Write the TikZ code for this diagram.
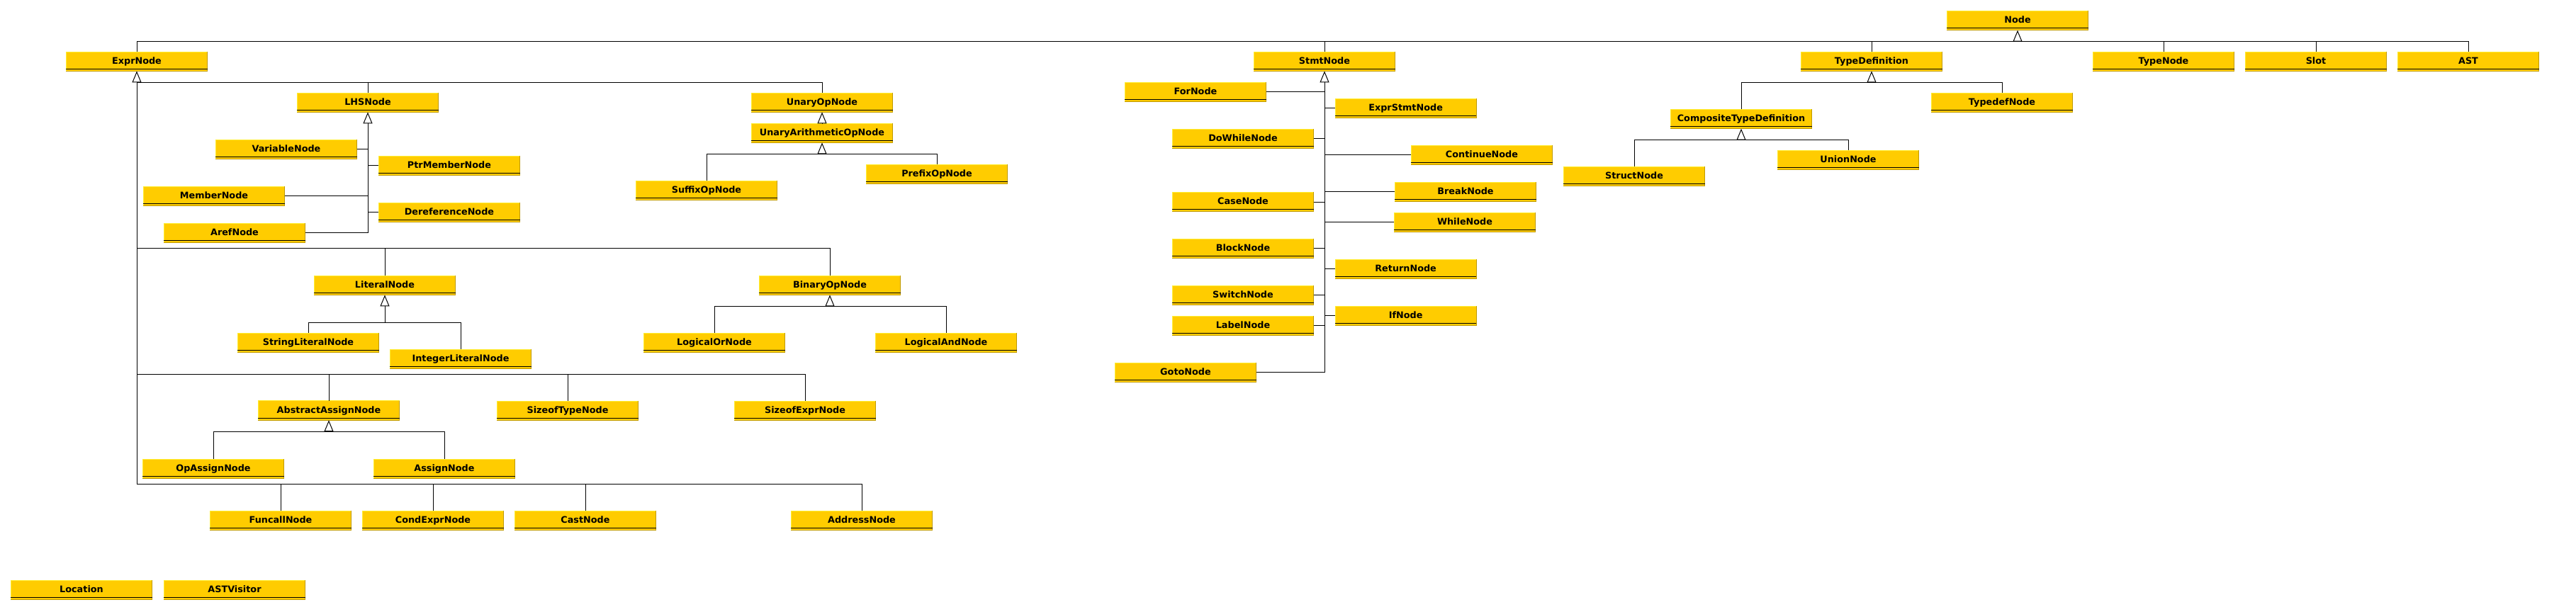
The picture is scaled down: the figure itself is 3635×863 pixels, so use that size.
\documentclass[tikz,border=0pt]{standalone}
\usepackage{fontspec}
\newfontfamily\clsfont{DejaVu Sans}
\usetikzlibrary{arrows.meta}
\definecolor{clsfill}{HTML}{FFCC00}
\definecolor{clsdark}{HTML}{C09A00}
\definecolor{clslight}{HTML}{FFEE33}
\tikzset{
	cls/.style={rectangle, fill=clsfill, minimum width=199pt, minimum height=27pt, inner sep=0pt,
		text height=9.3pt, text depth=2pt, font=\clsfont\bfseries\fontsize{12.8}{14}\selectfont},
	link/.style={line width=1pt},
	gen/.style={link, -{Triangle[open, length=16pt, width=13pt]}},
}
\def\cls(#1)(#2)#3{\node[cls] (#1) at (#2) {#3};
	\draw[clslight, line width=0.8pt] (#1.south west) -- (#1.north west) -- (#1.north east);
	\draw[clsdark, line width=0.8pt] (#1.north east) -- (#1.south east) -- (#1.south west);
	\draw[line width=1.2pt] ([yshift=3pt]#1.south west) -- ([yshift=3pt]#1.south east);}

\begin{document}
\begin{tikzpicture}[x=1pt, y=-1pt]
		%%%%% START %%%%%
		\useasboundingbox (0,0) rectangle (3635,863);
		
		\cls(Node)(2847,29){Node}
		\cls(ExprNode)(193,86.7){ExprNode}
		\cls(StmtNode)(1869,86.7){StmtNode}
		\cls(TypeDefinition)(2641,86.7){TypeDefinition}
		\cls(TypeNode)(3053,86.7){TypeNode}
		\cls(Slot)(3268,86.7){Slot}
		\cls(AST)(3483,86.7){AST}
		
		%% expressions
		\cls(LHSNode)(519,144.7){LHSNode}
		\cls(UnaryOpNode)(1160,144.7){UnaryOpNode}
		\cls(UnaryArithmeticOpNode)(1160,187.7){UnaryArithmeticOpNode}
		\cls(SuffixOpNode)(997,269){SuffixOpNode}
		\cls(PrefixOpNode)(1322,245.7){PrefixOpNode}
		\cls(VariableNode)(404,210.7){VariableNode}
		\cls(PtrMemberNode)(634,233.8){PtrMemberNode}
		\cls(MemberNode)(302,276.7){MemberNode}
		\cls(DereferenceNode)(634,299.8){DereferenceNode}
		\cls(ArefNode)(331,328.8){ArefNode}
		\cls(LiteralNode)(543,402.7){LiteralNode}
		\cls(BinaryOpNode)(1171,402.7){BinaryOpNode}
		\cls(StringLiteralNode)(435,483.7){StringLiteralNode}
		\cls(IntegerLiteralNode)(650,506.7){IntegerLiteralNode}
		\cls(LogicalOrNode)(1008,483.8){LogicalOrNode}
		\cls(LogicalAndNode)(1335,483.8){LogicalAndNode}
		\cls(AbstractAssignNode)(464,579.5){AbstractAssignNode}
		\cls(SizeofTypeNode)(801,579.8){SizeofTypeNode}
		\cls(SizeofExprNode)(1136,579.8){SizeofExprNode}
		\cls(OpAssignNode)(301,661.8){OpAssignNode}
		\cls(AssignNode)(627,661.8){AssignNode}
		\cls(FuncallNode)(396,734.8){FuncallNode}
		\cls(CondExprNode)(611,734.8){CondExprNode}
		\cls(CastNode)(826,734.8){CastNode}
		\cls(AddressNode)(1216,734.8){AddressNode}
		\cls(Location)(115,833){Location}
		\cls(ASTVisitor)(331,833){ASTVisitor}
		
		%% statements
		\cls(ForNode)(1687,129.8){ForNode}
		\cls(ExprStmtNode)(1983.6,152.8){ExprStmtNode}
		\cls(DoWhileNode)(1754,195.8){DoWhileNode}
		\cls(ContinueNode)(2091,218.8){ContinueNode}
		\cls(BreakNode)(2068,270.8){BreakNode}
		\cls(CaseNode)(1754,285){CaseNode}
		\cls(WhileNode)(2067,313.8){WhileNode}
		\cls(BlockNode)(1754,350.8){BlockNode}
		\cls(ReturnNode)(1983.6,379.8){ReturnNode}
		\cls(SwitchNode)(1754,416.8){SwitchNode}
		\cls(IfNode)(1983.6,445.8){IfNode}
		\cls(LabelNode)(1754,459.8){LabelNode}
		\cls(GotoNode)(1673,525.8){GotoNode}
		
		%% types
		\cls(CompositeTypeDefinition)(2457,168){CompositeTypeDefinition}
		\cls(TypedefNode)(2825,144.8){TypedefNode}
		\cls(StructNode)(2306,249){StructNode}
		\cls(UnionNode)(2608,225.8){UnionNode}
		
		%% Node
		\coordinate (nodefork) at (Node.south |- 0,58.3);
		\draw[link] (ExprNode.north) |- (AST.north |- nodefork) -- (AST.north);
		\foreach \n in {StmtNode,TypeDefinition,TypeNode,Slot}
			\draw[link] (\n.north) -- (\n.north |- nodefork);
		\draw[gen] (nodefork) -- (Node.south);
		
		%% ExprNode
		\coordinate (exprfork) at (ExprNode.south |- 0,116.3);
		\coordinate (litfork) at (ExprNode.south |- 0,350.3);
		\coordinate (assignfork) at (ExprNode.south |- 0,528.3);
		\coordinate (castfork) at (ExprNode.south |- 0,683.3);
		\draw[gen] (castfork) -- (ExprNode.south);
		\draw[link] (exprfork) -| (UnaryOpNode.north);
		\draw[link] (LHSNode.north) -- (LHSNode.north |- exprfork);
		\draw[link] (litfork) -| (BinaryOpNode.north);
		\draw[link] (LiteralNode.north) -- (LiteralNode.north |- litfork);
		\draw[link] (assignfork) -| (SizeofExprNode.north);
		\foreach \n in {AbstractAssignNode,SizeofTypeNode}
			\draw[link] (\n.north) -- (\n.north |- assignfork);
		\draw[link] (castfork) -| (AddressNode.north);
		\foreach \n in {FuncallNode,CondExprNode,CastNode}
			\draw[link] (\n.north) -- (\n.north |- castfork);
		
		%% LHSNode
		\draw[gen] (LHSNode.south |- ArefNode.east) -- (LHSNode.south);
		\foreach \n in {VariableNode,MemberNode,ArefNode}
			\draw[link] (\n.east) -- (\n.east -| LHSNode.south);
		\foreach \n in {PtrMemberNode,DereferenceNode}
			\draw[link] (\n.west) -- (\n.west -| LHSNode.south);
		
		%% unary ops
		\draw[gen] (UnaryArithmeticOpNode.north) -- (UnaryOpNode.south);
		\coordinate (unaryfork) at (UnaryArithmeticOpNode.south |- 0,217.3);
		\draw[link] (SuffixOpNode.north) |- (unaryfork) -| (PrefixOpNode.north);
		\draw[gen] (unaryfork) -- (UnaryArithmeticOpNode.south);
		
		%% literals
		\coordinate (literalfork) at (LiteralNode.south |- 0,455.3);
		\draw[link] (StringLiteralNode.north) |- (literalfork) -| (IntegerLiteralNode.north);
		\draw[gen] (literalfork) -- (LiteralNode.south);
		
		%% binary ops
		\coordinate (binaryfork) at (BinaryOpNode.south |- 0,432.3);
		\draw[link] (LogicalOrNode.north) |- (binaryfork) -| (LogicalAndNode.north);
		\draw[gen] (binaryfork) -- (BinaryOpNode.south);
		
		%% assignments
		\coordinate (opfork) at (AbstractAssignNode.south |- 0,609.3);
		\draw[link] (OpAssignNode.north) |- (opfork) -| (AssignNode.north);
		\draw[gen] (opfork) -- (AbstractAssignNode.south);
		
		%% StmtNode
		\draw[gen] (StmtNode.south |- GotoNode.east) -- (StmtNode.south);
		\foreach \n in {ForNode,DoWhileNode,CaseNode,BlockNode,SwitchNode,LabelNode,GotoNode}
			\draw[link] (\n.east) -- (\n.east -| StmtNode.south);
		\foreach \n in {ExprStmtNode,ContinueNode,BreakNode,WhileNode,ReturnNode,IfNode}
			\draw[link] (\n.west) -- (\n.west -| StmtNode.south);
		
		%% TypeDefinition
		\coordinate (typefork) at (TypeDefinition.south |- 0,116.3);
		\draw[link] (CompositeTypeDefinition.north) |- (typefork) -| (TypedefNode.north);
		\draw[gen] (typefork) -- (TypeDefinition.south);
		\coordinate (compfork) at (CompositeTypeDefinition.south |- 0,197.3);
		\draw[link] (StructNode.north) |- (compfork) -| (UnionNode.north);
		\draw[gen] (compfork) -- (CompositeTypeDefinition.south);
		
		%%%%% END %%%%%
	\end{tikzpicture}
\end{document}
